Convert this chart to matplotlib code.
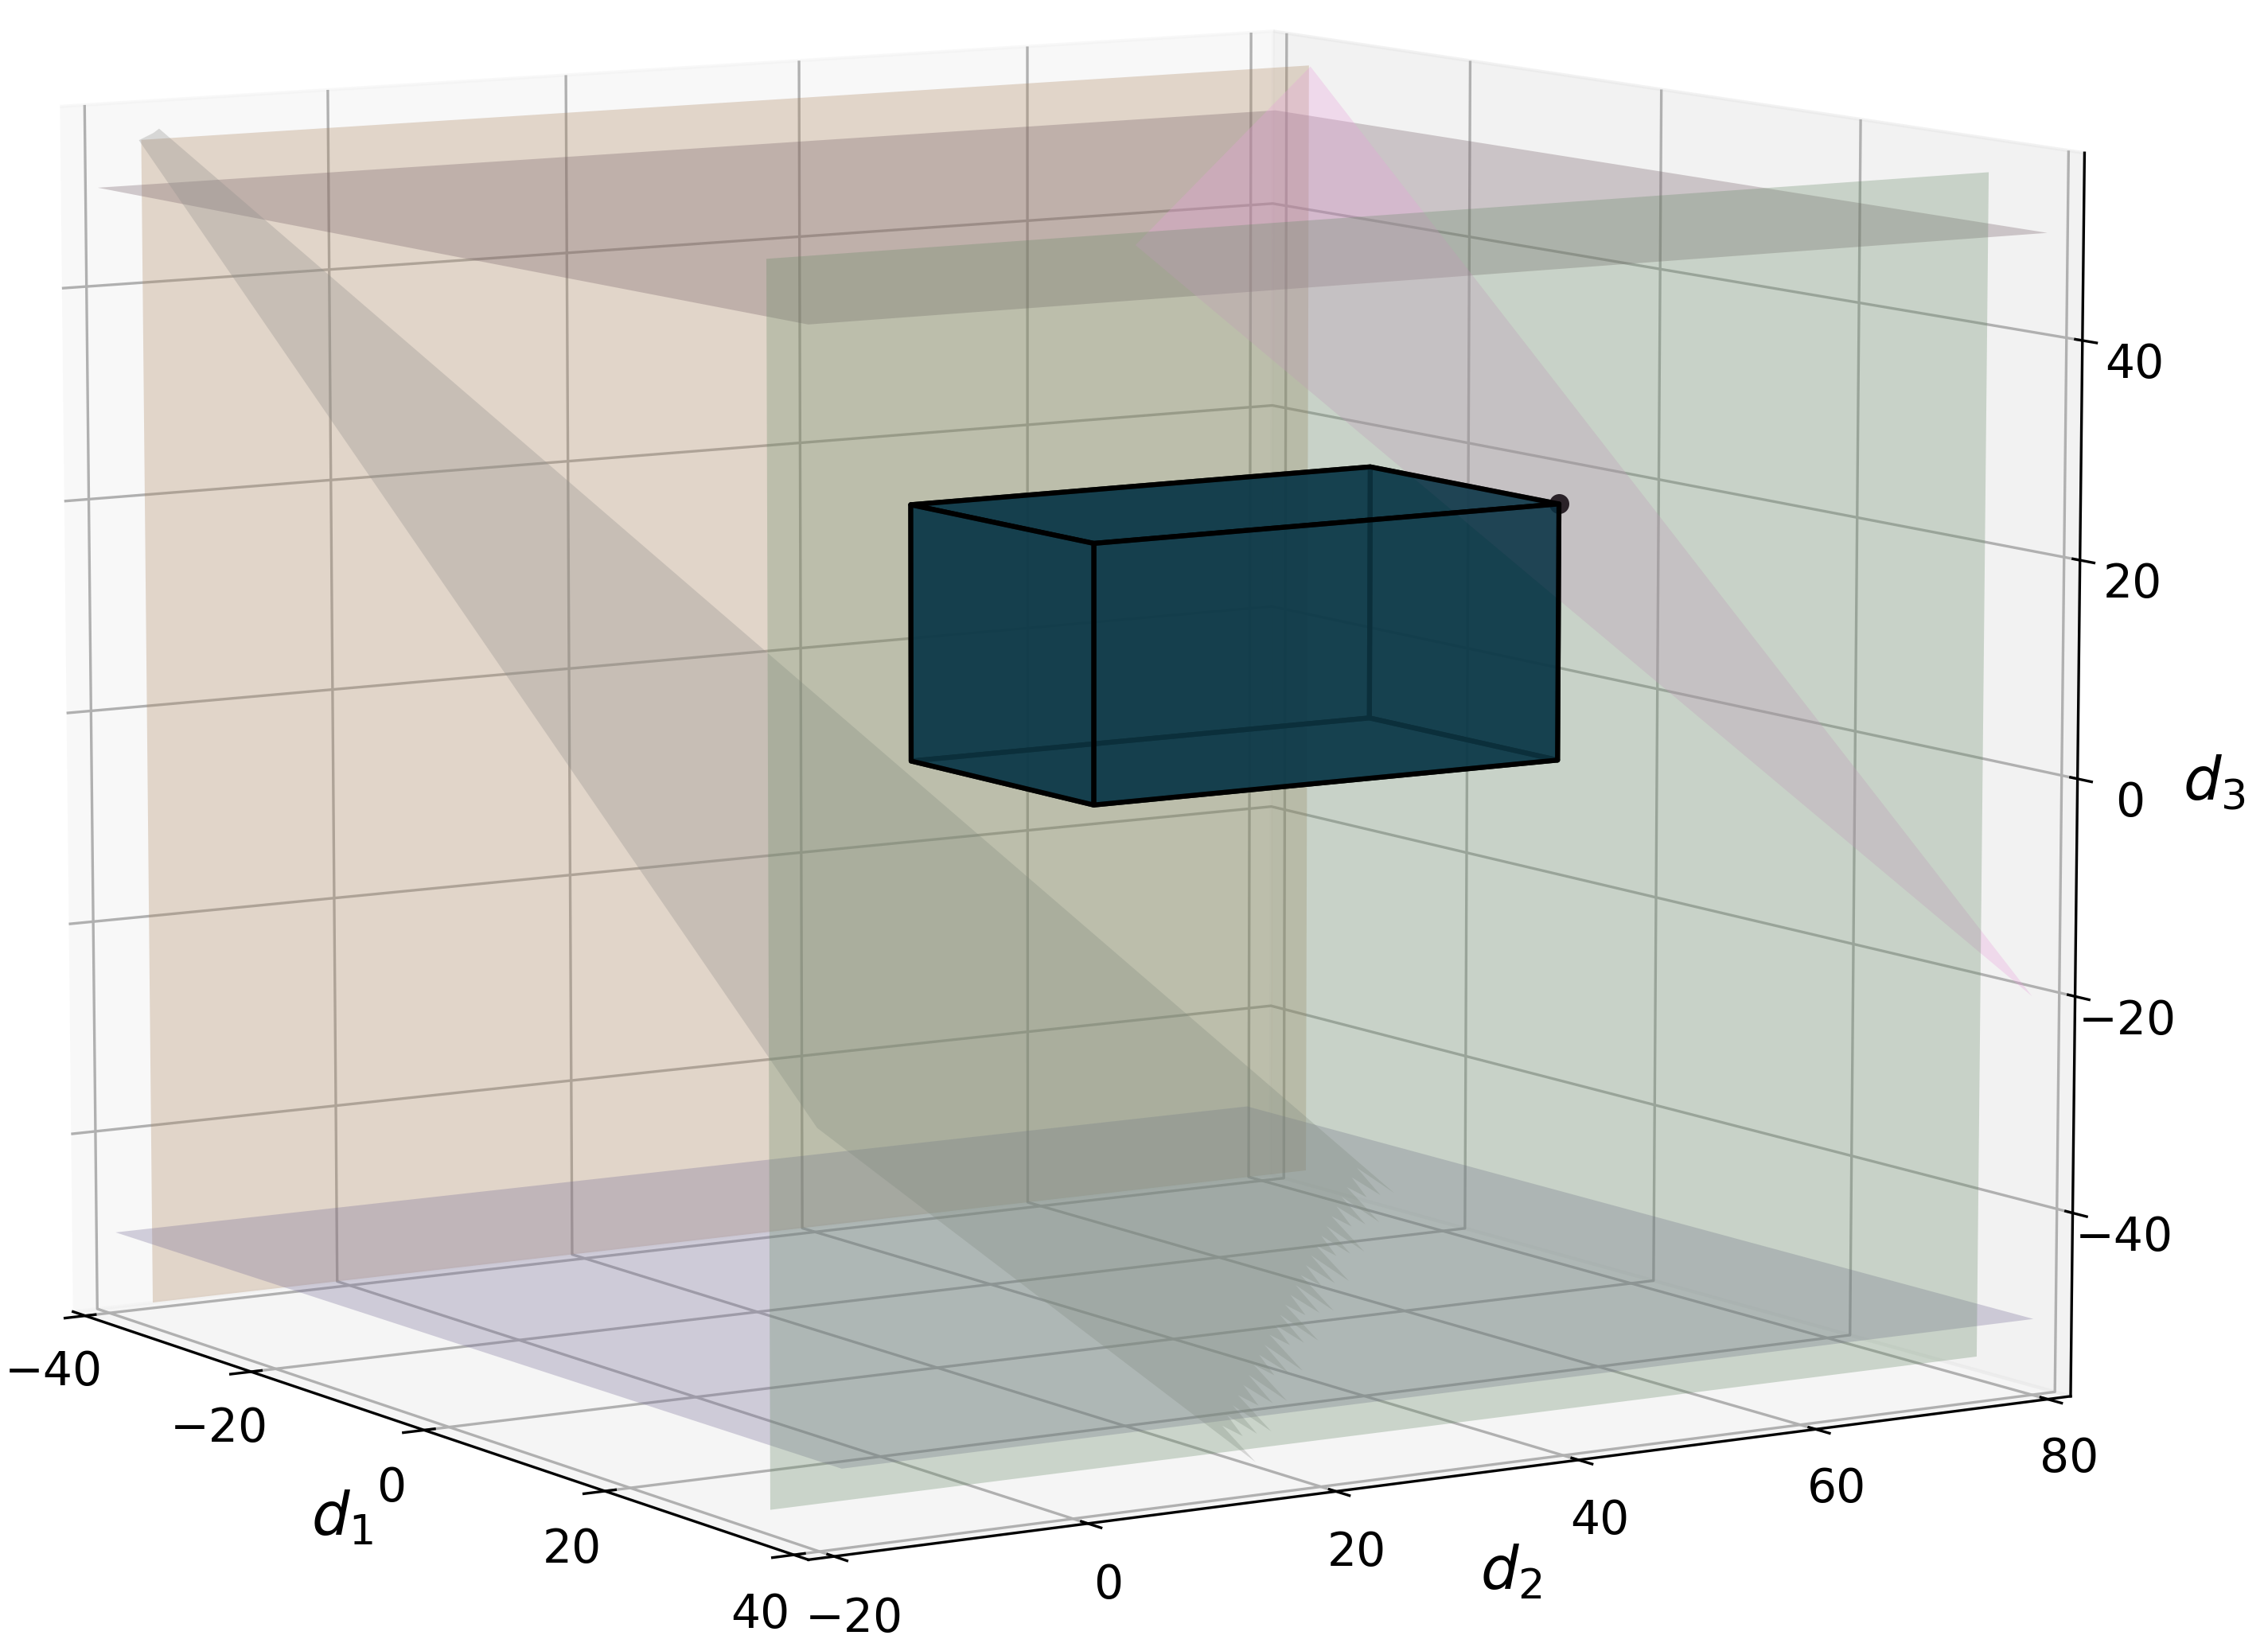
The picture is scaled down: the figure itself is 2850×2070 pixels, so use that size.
import numpy as np
import matplotlib
matplotlib.use('Agg')
import matplotlib.pyplot as plt
from mpl_toolkits.mplot3d.art3d import Poly3DCollection

# constraint planes
BROWN_D1 = -36
BROWN_D2 = [-19.11, 80.76]
BROWN_D3 = [-55.07, 54.46]
GREEN_D1 = 36
GREEN_D2 = [-20.83, 78.78]
GREEN_D3 = [-54.34, 54.69]
LOWER_D3 = -48
LOWER_D1 = [-36.0, 45.08]
LOWER_D2 = [-22.1, 75.4]
UPPER_D3 = 50
UPPER_D1 = [-37.4, 41.47]
UPPER_D2 = [-21.73, 78.9]

# feasible region box
BOX_D1 = [0.65, 20.0]
BOX_D2 = [17.4, 56.2]
BOX_D3 = [0, 23.63]

# slanted planes
PINK = [(-36, 80.89, 54.35), (-36, 65.26, 38.05), (36, 83.3, -21.41)]
GREY_TOP = [(-36, -19.3, 54.44), (-36, -18.12, 55.03), (-36, -17.65, 55.4)]
GREY_RIGHT = (20, 42.49, -38.5)
GREY_BOTTOM = (36, 17.91, -55.59)
GREY_KINK = (0, 10.05, -33.31)

D1_TICKS = [-40, -20, 0, 20, 40]
D2_TICKS = [-20, 0, 20, 40, 60, 80]
D3_TICKS = [-40, -20, 0, 20, 40]


def rect_x(x, ys, zs):
    return [(x, ys[0], zs[0]), (x, ys[1], zs[0]), (x, ys[1], zs[1]), (x, ys[0], zs[1])]


def rect_z(z, xs, ys):
    return [(xs[0], ys[0], z), (xs[1], ys[0], z), (xs[1], ys[1], z), (xs[0], ys[1], z)]


def jagged_edge(start, end, back_dir, teeth=27, depth=0.02):
    # the cut edge of the slanted plane is a row of thin spikes
    start, end, back_dir = np.array(start), np.array(end), np.array(back_dir)
    pts = []
    for i in range(teeth):
        tip = start + (end - start) * i / teeth - back_dir * depth * 0.35 * (i % 3)
        valley = start + (end - start) * (i + 0.5) / teeth - back_dir * depth * 1.4
        pts += [tuple(tip), tuple(valley)]
    pts.append(tuple(end))
    return pts


def add_poly(verts, col, z, **kw):
    poly = Poly3DCollection(verts, facecolor=col, zorder=z, **kw)
    ax.add_collection3d(poly, autolim=False)
    poly.set_clip_on(False)
    return poly


plt.rcParams.update({'font.size': 14})

fig = plt.figure(figsize=(9.5, 6.9), dpi=300)
ax = fig.add_axes([-0.0442, 0.0339, 1, 1], projection='3d', computed_zorder=False)
ax.view_init(elev=8.547, azim=-32.297)
ax.set_proj_type('persp', focal_length=1.5422)
ax.set_box_aspect((4, 4.0406, 3.4188), zoom=1.4156)

back_dir = np.array(GREY_RIGHT) - np.array(GREY_TOP[2])
grey = GREY_TOP + jagged_edge(GREY_RIGHT, GREY_BOTTOM, back_dir) + [GREY_KINK]

add_poly([rect_x(BROWN_D1, BROWN_D2, BROWN_D3)], (172/255, 133/255, 95/255), 1, alpha=0.3, linewidth=0)
add_poly([rect_z(LOWER_D3, LOWER_D1, LOWER_D2)], (118/255, 108/255, 150/255), 2, alpha=0.3, linewidth=0)
add_poly([rect_z(UPPER_D3, UPPER_D1, UPPER_D2)], (115/255, 92/255, 100/255), 3, alpha=0.3, linewidth=0)
add_poly([grey], (140/255, 140/255, 138/255), 4, alpha=0.3, linewidth=0)

x0, x1 = BOX_D1
y0, y1 = BOX_D2
z0, z1 = BOX_D3
back_faces = [
    [(x0, y1, z0), (x1, y1, z0), (x1, y1, z1), (x0, y1, z1)],
    [(x0, y0, z0), (x0, y1, z0), (x0, y1, z1), (x0, y0, z1)],
    [(x0, y0, z0), (x1, y0, z0), (x1, y1, z0), (x0, y1, z0)],
]
front_faces = [
    [(x0, y0, z1), (x1, y0, z1), (x1, y1, z1), (x0, y1, z1)],
    [(x0, y0, z0), (x1, y0, z0), (x1, y0, z1), (x0, y0, z1)],
    [(x1, y0, z0), (x1, y1, z0), (x1, y1, z1), (x1, y0, z1)],
]
box_col = '#053245'
add_poly(back_faces, box_col, 5, edgecolor='#000000', alpha=0.75, linewidth=1.5)
add_poly([PINK], (233/255, 160/255, 220/255), 6, alpha=0.3, linewidth=0)
add_poly([rect_x(GREEN_D1, GREEN_D2, GREEN_D3)], (103/255, 138/255, 103/255), 7, alpha=0.3, linewidth=0)
ax.scatter([x1], [y1], [z1], color='#2a2228', s=25, alpha=1, depthshade=False, zorder=7.5)
add_poly(front_faces, box_col, 8, edgecolor='#000000', alpha=0.75, linewidth=1.5)

ax.set_xlim(-41.5, 41.5)
ax.set_ylim(-22, 82)
ax.set_zlim(-57, 57)
ax.set_xticks(D1_TICKS)
ax.set_yticks(D2_TICKS)
ax.set_zticks(D3_TICKS)
ax.tick_params(pad=-1.5)
ax.xaxis.set_rotate_label(False)
ax.yaxis.set_rotate_label(False)
ax.zaxis.set_rotate_label(False)
ax.set_xlabel('$d_1$', fontsize=18, labelpad=-4.6)
ax.set_ylabel('$d_2$', fontsize=18, labelpad=-4.5)
ax.set_zlabel('$d_3$', fontsize=18, labelpad=-4)

fig.savefig('out.png', dpi=300)
